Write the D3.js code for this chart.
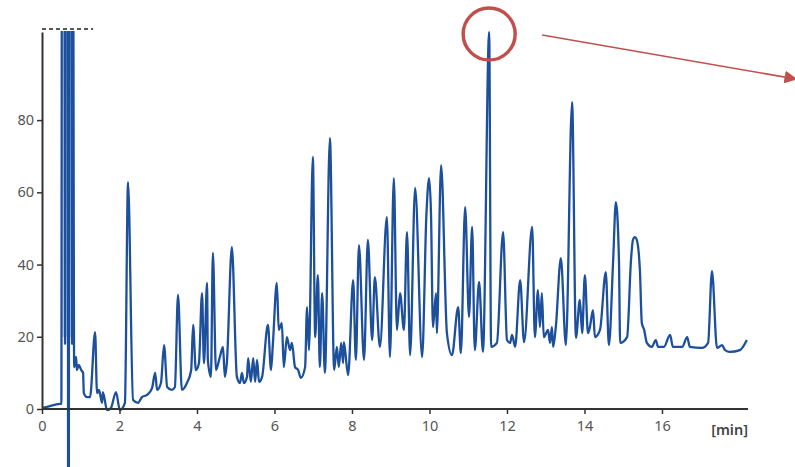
<!DOCTYPE html>
<html>
<head>
<meta charset="utf-8">
<script src="https://cdn.jsdelivr.net/npm/d3@7"></script>
<style>
  body { margin: 0; background: #fff; }
  svg { display: block; }
  .tick text { font-family: "Noto Sans", sans-serif; font-size: 14.5px; fill: #555; }
</style>
</head>
<body>
<div id="chart"></div>
<script>
// retention time (min) and detector signal
var times = [0, 0.13, 0.46, 0.50, 0.515, 0.58, 0.595, 0.61, 0.665, 0.675, 0.69, 0.705, 0.76, 0.775, 0.79, 0.80, 0.83, 0.88, 0.90, 0.95,
  1.01, 1.06, 1.08,
  1.16, 1.24, 1.37, 1.42, 1.47, 1.55, 1.57, 1.68, 1.78, 1.91, 2.01, 2.14, 2.22, 2.35, 2.48, 2.58, 2.71, 2.84, 2.92, 2.97,
  3.07, 3.15, 3.23, 3.35, 3.43, 3.51, 3.61, 3.74, 3.85, 3.90, 3.97, 4.05, 4.13, 4.18, 4.26, 4.28, 4.36, 4.41, 4.49, 4.59,
  4.67, 4.72, 4.77, 4.90, 5.03, 5.11, 5.16, 5.21, 5.29, 5.32, 5.39, 5.45, 5.50, 5.55, 5.60, 5.68, 5.83, 5.91, 5.96, 6.06,
  6.11, 6.19, 6.24, 6.32, 6.40, 6.45, 6.53, 6.61, 6.68, 6.79, 6.84, 6.89, 6.99, 7.05, 7.12, 7.17, 7.23, 7.30, 7.43, 7.54,
  7.61, 7.66, 7.72, 7.77, 7.79, 7.90, 8.03, 8.10, 8.18, 8.31, 8.41, 8.52, 8.59, 8.72, 8.90, 8.98, 9.08, 9.16, 9.24, 9.34,
  9.42, 9.50, 9.63, 9.81, 9.92, 9.99, 10.04, 10.09, 10.17, 10.19, 10.30, 10.45, 10.58, 10.74, 10.81, 10.92, 11.02, 11.10, 11.17, 11.28,
  11.38, 11.54, 11.59, 11.74, 11.90, 12.00, 12.08, 12.13, 12.21, 12.34, 12.44, 12.65, 12.72, 12.80, 12.85, 12.90, 12.95, 13.06, 13.11, 13.16,
  13.19, 13.26, 13.39, 13.52, 13.68, 13.78, 13.88, 13.94, 14.01, 14.09, 14.14, 14.22, 14.27, 14.40, 14.55, 14.63, 14.74, 14.81, 14.89, 14.92,
  15.10, 15.20, 15.25, 15.30, 15.35, 15.43, 15.48, 15.54, 15.61, 15.74, 15.84, 15.90, 16.05, 16.21, 16.28, 16.52, 16.65, 16.72, 17.03, 17.19,
  17.29, 17.42, 17.55, 17.63, 17.75, 18.01, 18.19]
var signal = [0.3, 0.6, 1.4, 1.4, 150, 150, 18, 150, 150, -40, -40, 150, 150, 18, 150, 150, 11.6, 14.4, 10.8, 12.2,
  10.8, 10.0, 4.4,
  3.3, 3.3, 21.3, 4.4, 5.3, 1.7, 4.7, -0.3, 0.3, 4.7, -0.3, 1.7, 62.8, 2.5, 1.7, 3.3, 3.9, 5.8, 10.0, 5.3,
  7.2, 17.7, 6.1, 5.3, 6.1, 31.6, 5.3, 7.2, 10.8, 23.3, 10.8, 12.7, 32.1, 12.7, 34.9, 13.6, 8.9, 43.2, 10.8, 14.4,
  17.2, 8.9, 12.7, 44.8, 8.9, 7.2, 10.0, 7.2, 8.9, 14.1, 7.5, 14.1, 7.5, 13.6, 7.5, 8.9, 23.3, 10.8, 18.3, 34.9,
  21.9, 23.8, 11.6, 19.9, 16.3, 18.3, 11.6, 10.8, 8.6, 11.6, 28.2, 16.3, 69.8, 19.9, 37.1, 11.6, 32.1, 10.0, 75.0, 10.8,
  17.2, 11.6, 18.3, 12.7, 18.5, 9.4, 35.7, 13.6, 45.4, 13.6, 46.8, 19.1, 36.5, 17.2, 53.1, 14.4, 63.9, 21.9, 32.1, 21.9,
  49.0, 14.9, 61.2, 14.4, 53.7, 63.9, 53.7, 22.7, 32.1, 21.0, 67.5, 21.0, 14.9, 28.2, 15.5, 55.9, 25.5, 50.4, 16.3, 35.2,
  15.8, 104.4, 17.2, 18.3, 49.0, 19.1, 18.3, 20.5, 17.2, 35.7, 18.5, 50.4, 19.9, 32.9, 22.7, 32.1, 19.9, 21.9, 18.3, 22.7,
  17.2, 22.7, 41.8, 17.7, 85.0, 19.7, 30.2, 21.0, 37.1, 21.0, 22.7, 27.4, 19.9, 21.9, 37.9, 17.7, 41.2, 57.3, 41.2, 18.3,
  19.9, 41.2, 46.8, 47.6, 46.8, 38.5, 23.8, 21.9, 18.3, 17.2, 19.1, 17.2, 17.2, 20.5, 17.2, 17.2, 19.9, 17.2, 16.9, 18.3,
  38.2, 16.9, 17.7, 16.3, 15.8, 16.3, 19.1]

var xTicks = [0, 2, 4, 6, 8, 10, 12, 14, 16]
var yTicks = [0, 20, 40, 60, 80]
var xUnit = "[min]"
var markedPeak = 11.54   // the circled peak

var width = 795, height = 467
var margin = {top: 32, right: 47, bottom: 58, left: 42}

var svg = d3.select("#chart").append("svg")
  .attr("width", width)
  .attr("height", height)

var x = d3.scaleLinear().domain([0, 18.22]).range([margin.left, width - margin.right])
var y = d3.scaleLinear().domain([0, 104.4]).range([height - margin.bottom, margin.top])

var data = times.map(function(t, i) { return {t: t, v: signal[i]} })

svg.append("clipPath").attr("id", "clip")
  .append("rect")
  .attr("x", x(0))
  .attr("y", y(104.4) - 1)
  .attr("width", width - x(0))
  .attr("height", height - y(104.4) + 1)

// light band behind the off-scale solvent spikes
svg.append("rect")
  .attr("x", x(0.515)).attr("y", y(104.4))
  .attr("width", x(0.79) - x(0.515))
  .attr("height", y(20) - y(104.4))
  .attr("fill", "#8fb0e0")
  .attr("opacity", 0.5)

// trace
svg.append("path")
  .datum(data)
  .attr("clip-path", "url(#clip)")
  .attr("fill", "none")
  .attr("stroke", "#1c4f9c")
  .attr("stroke-width", 2.3)
  .attr("stroke-linejoin", "round")
  .attr("d", d3.line()
    .x(function(d) { return x(d.t) })
    .y(function(d) { return y(d.v) })
    .curve(d3.curveMonotoneX))

// axes
var yAxis = svg.append("g")
  .attr("transform", "translate(" + x(0) + ",0)")
  .call(d3.axisLeft(y).tickValues(yTicks).tickSize(5).tickSizeOuter(0).tickPadding(3))
var xAxis = svg.append("g")
  .attr("transform", "translate(0," + y(0) + ")")
  .call(d3.axisBottom(x).tickValues(xTicks).tickSize(5).tickSizeOuter(0).tickPadding(7))

yAxis.select(".domain").attr("stroke", "#333").attr("stroke-width", 2)
xAxis.select(".domain").attr("stroke", "#333").attr("stroke-width", 2)
  .attr("d", "M" + x(0) + ",0H" + x(18.22))
yAxis.selectAll(".tick line").attr("stroke", "#333").attr("stroke-width", 1.5)
xAxis.selectAll(".tick line").attr("stroke", "#333").attr("stroke-width", 1.5)

svg.append("text")
  .attr("x", x(18.22))
  .attr("y", y(0) + 26)
  .attr("text-anchor", "end")
  .style("font-family", "'Noto Sans', sans-serif")
  .style("font-size", "14.5px")
  .style("font-weight", "600")
  .style("fill", "#444")
  .text(xUnit)

// dashed cap over the off-scale solvent peaks
svg.append("line")
  .attr("x1", x(0)).attr("x2", x(1.32))
  .attr("y1", y(104.4) - 3).attr("y2", y(104.4) - 3)
  .attr("stroke", "#222")
  .attr("stroke-width", 1.6)
  .attr("stroke-dasharray", "4,3")

// red annotation
var cx = x(markedPeak), cy = y(104.4) + 2
svg.append("defs").append("marker")
  .attr("id", "arrow")
  .attr("viewBox", "0 0 10 10")
  .attr("refX", 9).attr("refY", 5)
  .attr("markerWidth", 8).attr("markerHeight", 8)
  .attr("orient", "auto")
  .append("path").attr("d", "M0,0L10,5L0,10z").attr("fill", "#c0504d")

svg.append("circle")
  .attr("cx", cx).attr("cy", cy).attr("r", 26)
  .attr("fill", "none")
  .attr("stroke", "#c0504d")
  .attr("stroke-width", 3.5)

svg.append("line")
  .attr("x1", cx + 53).attr("y1", cy + 1)
  .attr("x2", 796).attr("y2", 79)
  .attr("stroke", "#c0504d")
  .attr("stroke-width", 1.6)
  .attr("marker-end", "url(#arrow)")
</script>
</body>
</html>
